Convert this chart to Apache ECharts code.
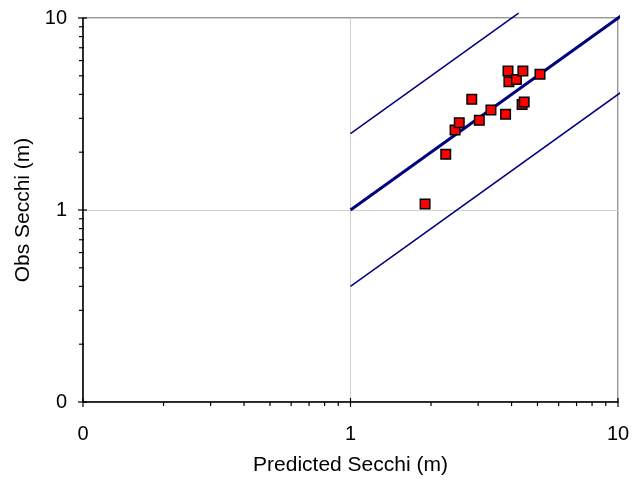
<!DOCTYPE html>
<html>
<head>
<meta charset="utf-8">
<script src="https://cdn.jsdelivr.net/npm/echarts@6/dist/echarts.min.js"></script>
<style>
  html, body { margin: 0; padding: 0; background: #fff; }
  #chart { width: 633px; height: 483px; }
</style>
</head>
<body>
<div id="chart"></div>
<script>
// predicted vs observed Secchi depth (m)
const predicted = [1.90, 2.27, 2.46, 2.55, 2.84, 3.03, 3.35, 3.80, 3.88, 3.91, 4.17, 4.41, 4.38, 4.46, 5.11];
const observed  = [1.075, 1.95, 2.61, 2.85, 3.77, 2.93, 3.32, 3.15, 5.30, 4.66, 4.79, 5.30, 3.54, 3.65, 5.09];

// reference lines: 1:1 and the upper (x2.5) / lower (x0.4) bounds, drawn a bit past the frame
const oneToOne = [[1, 1], [10.4, 10.4]];
const upperLine = [[1, 2.5], [4.25, 10.6]];
const lowerLine = [[1, 0.4], [10.3, 4.12]];

// log-axis ticks
const majorTicks = [0.1, 1, 10];
const minorTicks = [0.2, 0.3, 0.4, 0.5, 0.6, 0.7, 0.8, 0.9, 2, 3, 4, 5, 6, 7, 8, 9];

const FONT = "'Liberation Sans', Arial, sans-serif";

const tickData = [];
majorTicks.forEach(v => { tickData.push([v, 0, 1]); tickData.push([v, 1, 1]); });
minorTicks.forEach(v => { tickData.push([v, 0, 0]); tickData.push([v, 1, 0]); });

function tickLabel(v) {
  return v < 1 ? '0' : String(Math.round(v));
}

const chart = echarts.init(document.getElementById('chart'));
chart.setOption({
  animation: false,
  backgroundColor: '#fff',
  textStyle: { fontFamily: FONT },
  grid: {
    left: 83, right: 15, top: 18, bottom: 81,
    show: true, borderColor: '#333', borderWidth: 1
  },
  xAxis: {
    type: 'log', logBase: 10, min: 0.1, max: 10,
    name: 'Predicted Secchi (m)', nameLocation: 'middle', nameGap: 53,
    nameTextStyle: { fontSize: 21, color: '#000', fontFamily: FONT },
    axisLine: { lineStyle: { color: '#000', width: 1.5 } },
    axisTick: { show: false },
    axisLabel: { formatter: tickLabel, margin: 22, fontSize: 20, color: '#000', fontFamily: FONT },
    splitLine: { show: true, lineStyle: { color: '#d0d0d0', width: 1 } }
  },
  yAxis: {
    type: 'log', logBase: 10, min: 0.1, max: 10,
    name: 'Obs Secchi (m)', nameLocation: 'middle', nameGap: 49,
    nameTextStyle: { fontSize: 21, color: '#000', fontFamily: FONT },
    axisLine: { lineStyle: { color: '#000', width: 1.5 } },
    axisTick: { show: false },
    axisLabel: { formatter: tickLabel, margin: 16, fontSize: 20, color: '#000', fontFamily: FONT },
    splitLine: { show: true, lineStyle: { color: '#d0d0d0', width: 1 } }
  },
  series: [
    {
      type: 'custom',
      clip: false,
      silent: true,
      z: 5,
      data: tickData,
      renderItem: function (params, api) {
        const v = api.value(0), axis = api.value(1), major = api.value(2);
        let shape;
        if (axis === 0) {
          const p = api.coord([v, 0.1]);
          shape = { x1: p[0], y1: p[1] - (major ? 4 : 0), x2: p[0], y2: p[1] + (major ? 5 : 4) };
        } else {
          const p = api.coord([0.1, v]);
          shape = { x1: p[0] - (major ? 5 : 4), y1: p[1], x2: p[0] + (major ? 4 : 1), y2: p[1] };
        }
        return { type: 'line', shape: shape, style: { stroke: '#000', lineWidth: 1.2 } };
      }
    },
    {
      type: 'line', data: upperLine, showSymbol: false, z: 3, clip: false,
      lineStyle: { color: '#000080', width: 1.5 }
    },
    {
      type: 'line', data: lowerLine, showSymbol: false, z: 3, clip: false,
      lineStyle: { color: '#000080', width: 1.5 }
    },
    {
      type: 'line', data: oneToOne, showSymbol: false, z: 3, clip: false,
      lineStyle: { color: '#000080', width: 3 }
    },
    {
      type: 'scatter',
      data: predicted.map((p, i) => [p, observed[i]]),
      symbol: 'rect', symbolSize: 9.5, z: 4,
      itemStyle: { color: '#ff0000', borderColor: '#000', borderWidth: 1.5, opacity: 1 }
    }
  ]
});
</script>
</body>
</html>
